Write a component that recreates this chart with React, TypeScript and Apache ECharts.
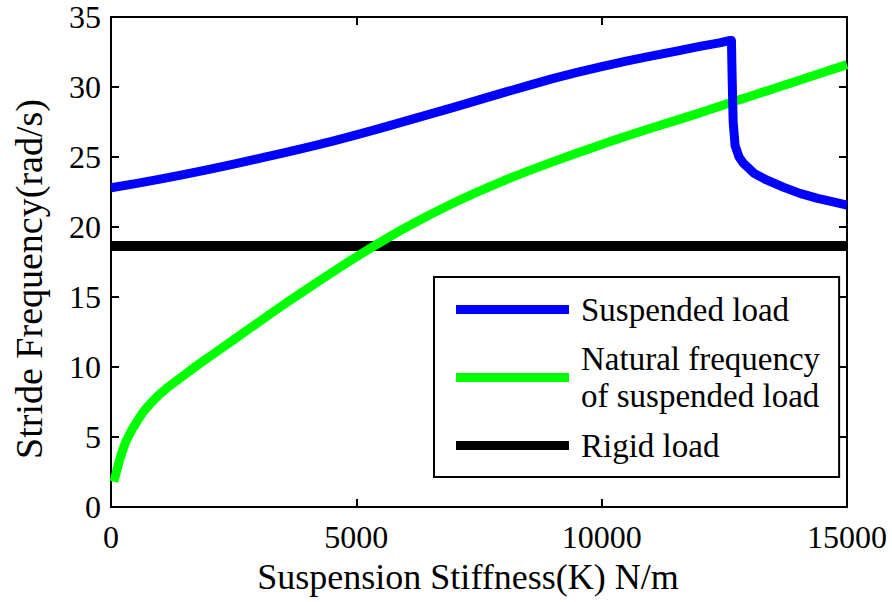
import React, { useEffect, useRef } from "react";
import * as echarts from "echarts";

const xTicks = [0, 5000, 10000, 15000];
const yTicks = [0, 5, 10, 15, 20, 25, 30, 35];

const suspendedK = [0, 500, 1000, 1500, 2000, 2500, 3000, 3500, 4000, 4500, 5000, 5500, 6000, 6500, 7000, 7500, 8000, 8500, 9000, 9500, 10000, 10500, 11000, 11500, 12000, 12400, 12600, 12645, 12660, 12680, 12720, 12800, 12890, 13100, 13360, 13700, 14040, 14400, 14720, 15000];
const suspendedF = [22.8, 23.1, 23.42, 23.76, 24.12, 24.49, 24.88, 25.28, 25.68, 26.12, 26.58, 27.06, 27.56, 28.06, 28.56, 29.08, 29.6, 30.1, 30.6, 31.05, 31.45, 31.85, 32.2, 32.55, 32.9, 33.15, 33.32, 33.32, 30.5, 27.5, 25.8, 25.0, 24.55, 23.85, 23.36, 22.85, 22.4, 22.05, 21.8, 21.57];

const naturalK = [60, 180, 320, 600, 860, 1140, 1540, 1810, 2500, 3170, 3580, 4200, 4700, 5200, 6000, 7000, 8000, 9000, 10000, 11000, 12000, 12680, 13000, 14000, 15000];
const naturalF = [1.8, 3.4, 4.8, 6.5, 7.6, 8.5, 9.55, 10.25, 11.95, 13.6, 14.6, 16.05, 17.2, 18.3, 19.95, 21.75, 23.3, 24.65, 25.9, 27.05, 28.15, 28.95, 29.3, 30.45, 31.6];

const rigidK = [0, 15000];
const rigidF = [18.65, 18.65];

const seriesNames = ["Suspended load", "Natural frequency of suspended load", "Rigid load"];
const seriesColors = ["#0000ff", "#00ff00", "#000000"];

const xTitle = "Suspension Stiffness(K) N/m";
const yTitle = "Stride Frequency(rad/s)";

const FONT = "Liberation Serif";

function pairs(xs: number[], ys: number[]) {
  return xs.map((x, i) => [x, ys[i]]);
}

export default function App() {
  const ref = useRef<HTMLDivElement>(null);
  useEffect(() => {
    if (!ref.current) return;
    const chart = echarts.init(ref.current, undefined, { renderer: "svg" });
    const axisCommon = {
      type: "value" as const,
      axisLine: { show: true, onZero: false, lineStyle: { color: "#000", width: 2 } },
      axisTick: { show: true, inside: true, length: 8, lineStyle: { color: "#000", width: 2 } },
      splitLine: { show: false },
    };
    const labelStyle = {
      color: "#000",
      fontSize: 32,
      fontFamily: FONT,
      formatter: (v: number) => String(v),
    };
    chart.setOption({
      animation: false,
      backgroundColor: "#fff",
      textStyle: { fontFamily: FONT },
      grid: { left: 111, right: 45, top: 17, bottom: 95, containLabel: false },
      xAxis: [
        {
          ...axisCommon,
          position: "bottom",
          min: xTicks[0],
          max: xTicks[xTicks.length - 1],
          interval: xTicks[1] - xTicks[0],
          axisLabel: { ...labelStyle, margin: 14 },
        },
        {
          ...axisCommon,
          position: "top",
          min: xTicks[0],
          max: xTicks[xTicks.length - 1],
          interval: xTicks[1] - xTicks[0],
          axisLabel: { show: false },
        },
      ],
      yAxis: [
        {
          ...axisCommon,
          position: "left",
          min: yTicks[0],
          max: yTicks[yTicks.length - 1],
          interval: yTicks[1] - yTicks[0],
          axisLabel: { ...labelStyle, margin: 10 },
        },
        {
          ...axisCommon,
          position: "right",
          min: yTicks[0],
          max: yTicks[yTicks.length - 1],
          interval: yTicks[1] - yTicks[0],
          axisLabel: { show: false },
        },
      ],
      legend: {
        show: true,
        orient: "vertical",
        left: 434,
        top: 277,
        padding: [14, 19, 13, 22],
        itemGap: 12.5,
        itemWidth: 113,
        itemHeight: 9,
        icon: "rect",
        borderColor: "#000",
        borderWidth: 2,
        backgroundColor: "#fff",
        selectedMode: false,
        formatter: (name: string) =>
          name === seriesNames[1] ? "Natural frequency\nof suspended load" : name,
        textStyle: {
          color: "#000",
          fontSize: 33,
          lineHeight: 37,
          fontFamily: FONT,
          padding: [0, 0, 0, 7],
        },
        data: seriesNames,
      },
      series: [
        {
          name: seriesNames[0],
          type: "line",
          data: pairs(suspendedK, suspendedF),
          showSymbol: false,
          color: seriesColors[0],
          lineStyle: { color: seriesColors[0], width: 9, join: "round" },
          z: 3,
        },
        {
          name: seriesNames[1],
          type: "line",
          data: pairs(naturalK, naturalF),
          showSymbol: false,
          smooth: 0.3,
          color: seriesColors[1],
          lineStyle: { color: seriesColors[1], width: 9 },
          z: 2,
        },
        {
          name: seriesNames[2],
          type: "line",
          data: pairs(rigidK, rigidF),
          showSymbol: false,
          color: seriesColors[2],
          lineStyle: { color: seriesColors[2], width: 10 },
          z: 1,
        },
      ],
      graphic: [
        {
          type: "text",
          x: 468,
          y: 577,
          style: {
            text: xTitle,
            fill: "#000",
            fontSize: 36,
            fontFamily: FONT,
            textAlign: "center",
            textVerticalAlign: "middle",
          },
        },
        {
          type: "text",
          x: 29,
          y: 279,
          rotation: Math.PI / 2,
          style: {
            text: yTitle,
            fill: "#000",
            fontSize: 38,
            fontFamily: FONT,
            textAlign: "center",
            textVerticalAlign: "middle",
          },
        },
      ],
    });
    return () => chart.dispose();
  }, []);
  return (
    <div
      ref={ref}
      style={{ position: "fixed", left: 0, top: 0, width: 892, height: 602 }}
    />
  );
}
